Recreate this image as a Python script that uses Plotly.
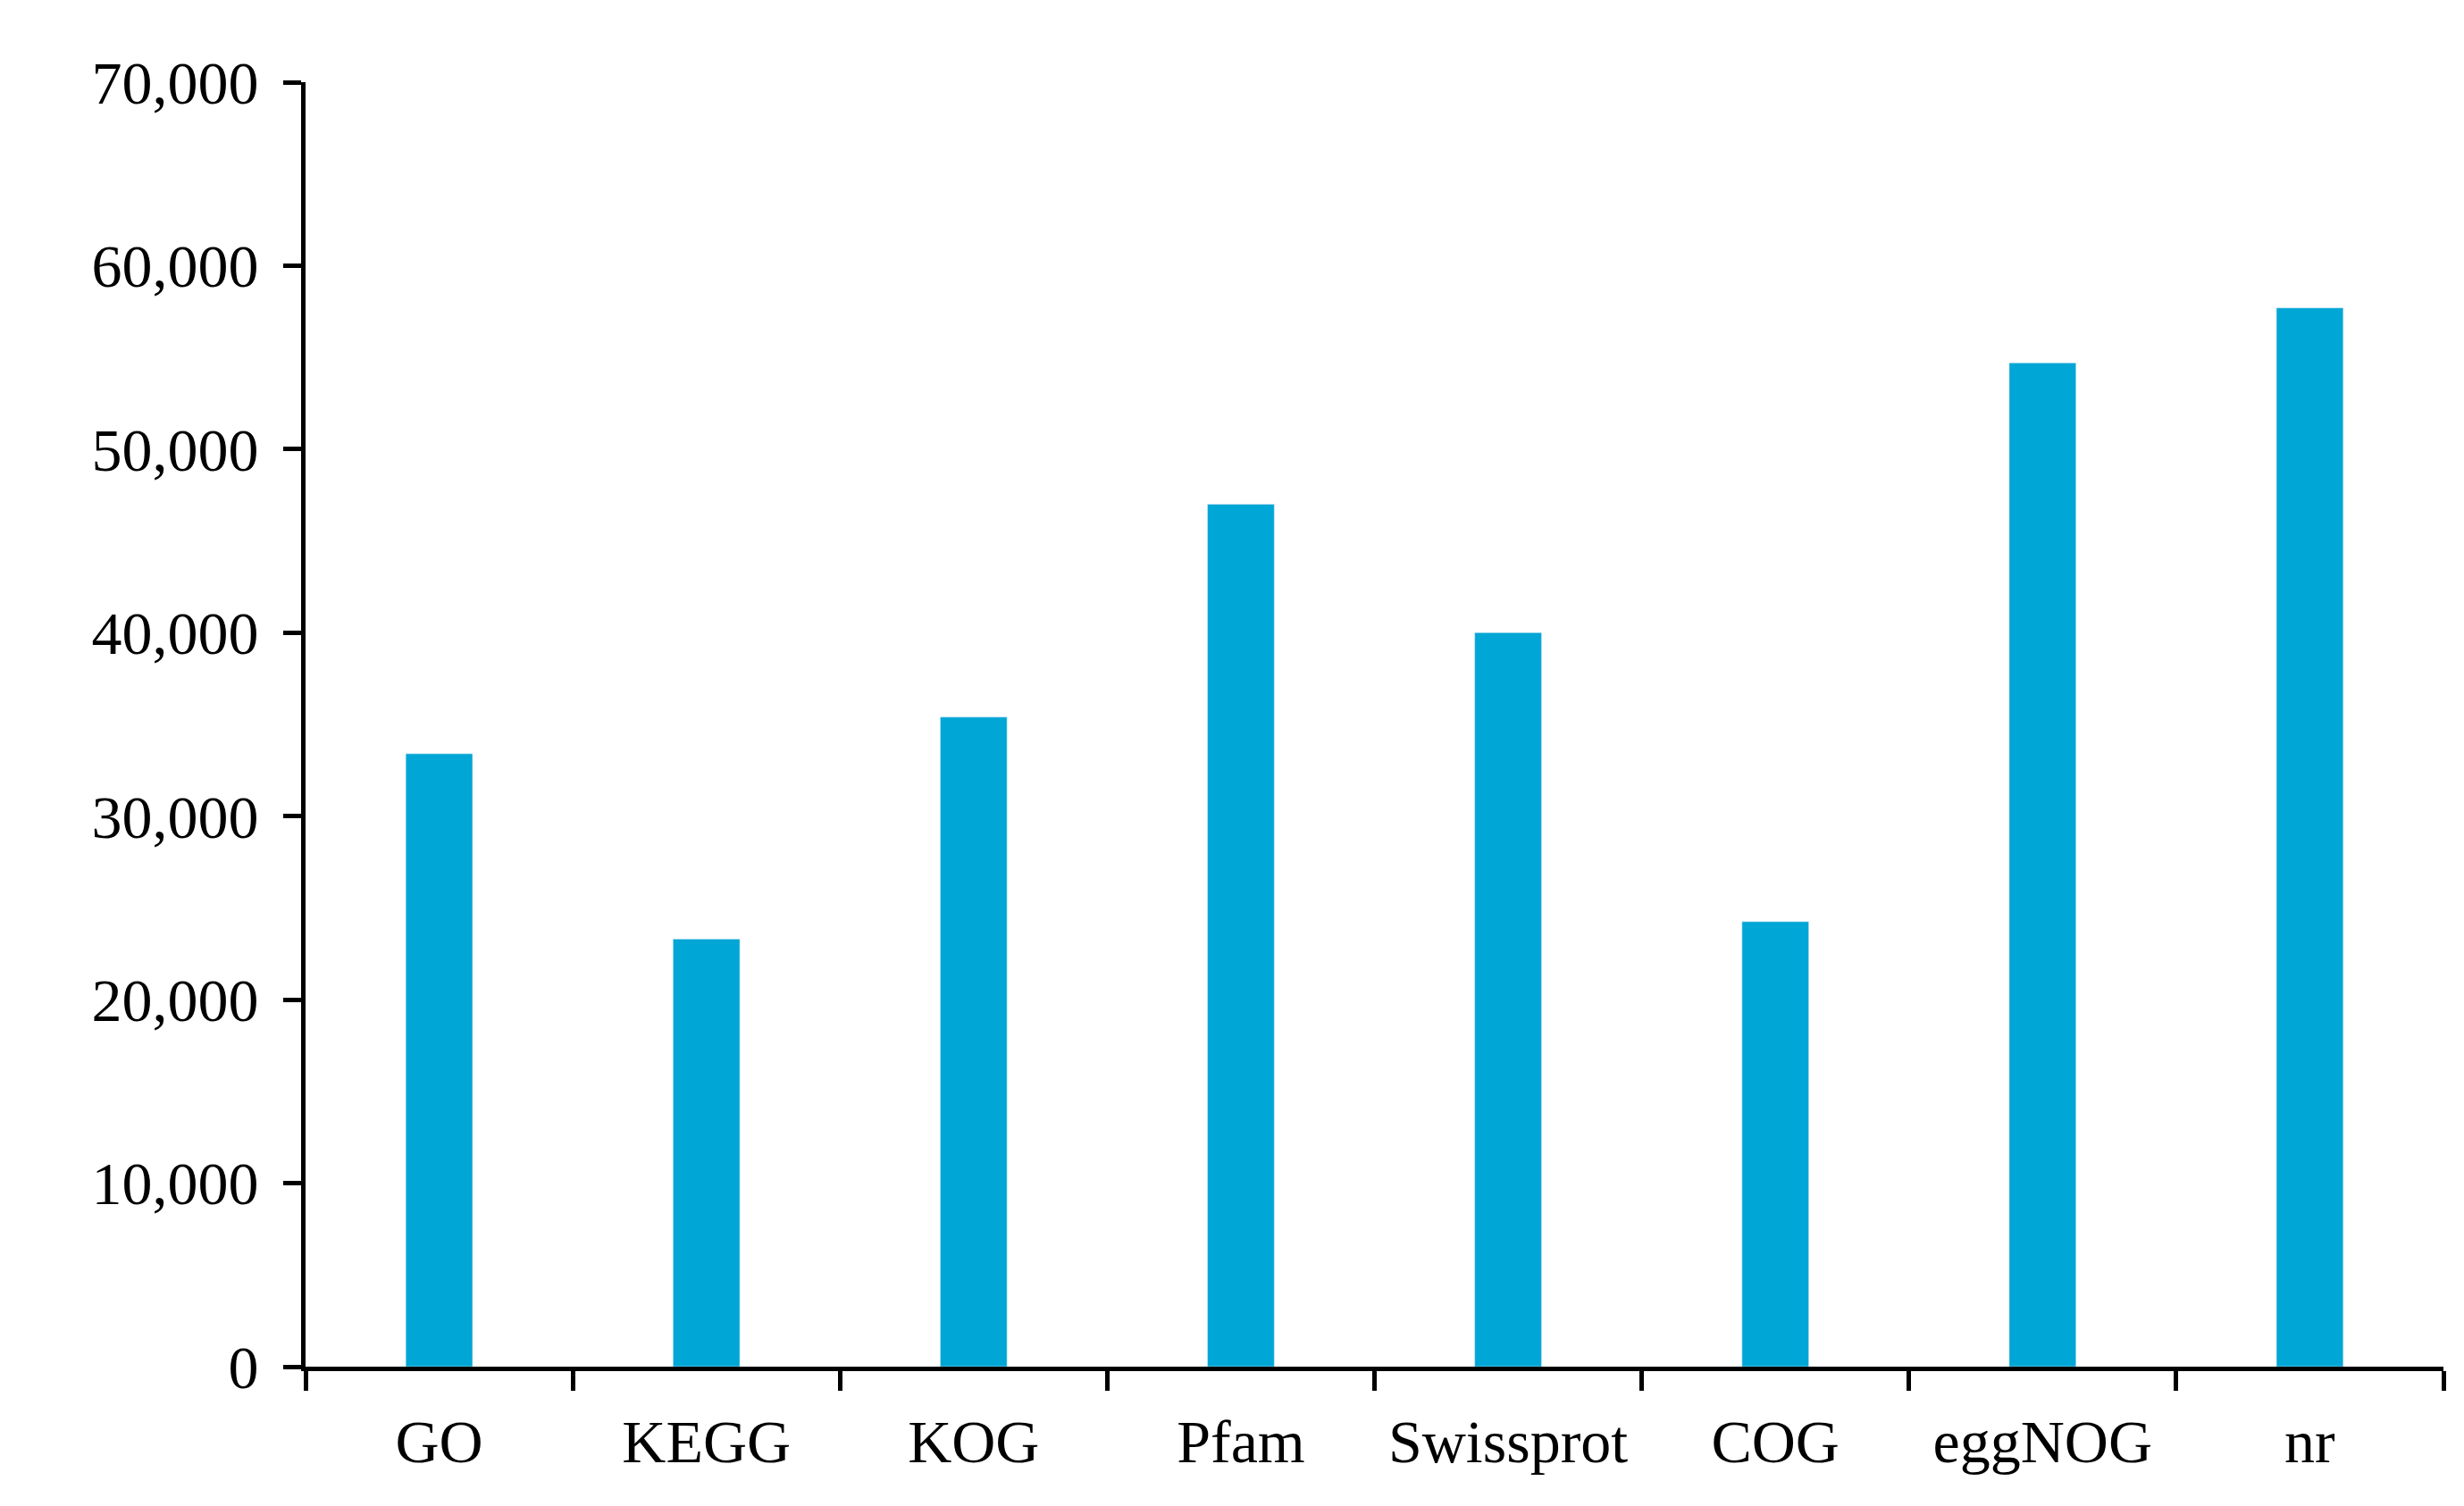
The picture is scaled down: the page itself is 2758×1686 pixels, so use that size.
import plotly.graph_objects as go

categories = ["GO", "KEGG", "KOG", "Pfam", "Swissprot", "COG", "eggNOG", "nr"]
values = [33400, 23300, 35400, 47000, 40000, 24250, 54700, 57700]
y_ticks = [0, 10000, 20000, 30000, 40000, 50000, 60000, 70000]
y_tick_text = ["0", "10,000", "20,000", "30,000", "40,000", "50,000", "60,000", "70,000"]

fig = go.Figure(go.Bar(x=categories, y=values, marker_color="#00A6D6", width=0.25))
font = dict(family="Liberation Serif", size=68, color="black")
fig.update_layout(
    width=2758, height=1686, plot_bgcolor="white", paper_bgcolor="white",
    margin=dict(l=334, r=31, t=84, b=164), font=font, showlegend=False,
)
fig.update_xaxes(showline=True, linecolor="black", linewidth=5, ticks="outside",
                 tickson="boundaries", ticklen=22, tickwidth=5, tickcolor="black",
                 ticklabelstandoff=20)
fig.update_yaxes(range=[0, 70000], tickvals=y_ticks, ticktext=y_tick_text,
                 showline=True, linecolor="black", linewidth=5, ticks="outside",
                 ticklen=20, tickwidth=5, tickcolor="black", showgrid=False,
                 zeroline=False, ticklabelstandoff=14)
fig.write_html("out.html")
